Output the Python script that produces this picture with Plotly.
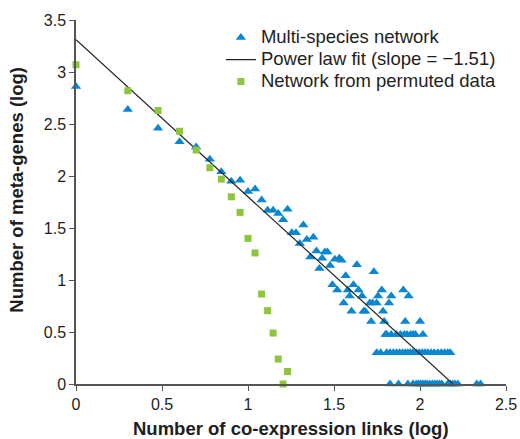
import math
import plotly.graph_objects as go

# Multi-species network (log10 links, log10 meta-genes)
multi_x = [0.0, 0.301, 0.477, 0.602, 0.699, 0.778, 0.845, 0.903, 0.954, 1.0,
           1.041, 1.079, 1.114, 1.146, 1.176, 1.204, 1.23, 1.255, 1.279, 1.301,
           1.322, 1.342, 1.362, 1.38, 1.398, 1.415, 1.431, 1.447, 1.462, 1.477,
           1.491, 1.505, 1.519, 1.531, 1.544, 1.556, 1.568, 1.58, 1.591, 1.602,
           1.613, 1.633, 1.643, 1.663, 1.672, 1.681, 1.708, 1.716, 1.724, 1.732,
           1.748, 1.756, 1.778, 1.785, 1.792, 1.806, 1.820, 1.833, 1.903, 1.914,
           1.934, 2.0]
multi_y = [2.86, 2.64, 2.46, 2.33, 2.28, 2.16, 2.04, 1.95, 1.96, 1.85,
           1.875, 1.77, 1.67, 1.67, 1.64, 1.58, 1.68, 1.455, 1.455, 1.35,
           1.53, 1.39, 1.22, 1.41, 1.28, 1.11, 1.21, 1.27, 1.27, 1.14,
           0.954, 1.2, 0.903, 1.21, 1.19, 0.778, 1.041, 0.903, 0.845, 0.699,
           0.954, 1.146, 0.903, 0.845, 0.699, 0.699, 0.778, 0.602, 0.778, 1.079,
           0.778, 0.845, 0.903, 0.699, 0.602, 0.477, 0.778, 0.845, 0.903, 0.602,
           0.845, 0.602]

# Lower bands of the multi-species network (integer links per band, log10 meta-genes)
band_links_3 = [63, 68, 73, 77, 81, 84, 88, 91, 94, 104]
band_links_2 = [56, 59, 64, 67, 70, 73, 76, 79, 82, 85, 88, 91, 95, 99, 103,
                107, 111, 116, 121, 127, 133, 139, 145, 150]
band_links_1 = [67, 75, 85, 91, 95, 98, 101, 104, 107, 110, 114, 118, 122, 126,
                130, 134, 145, 150, 155, 160, 166, 214, 225]
band_levels = [0.477, 0.301, 0.0]

# Network from permuted data
perm_x = [0.0, 0.301, 0.477, 0.602, 0.699, 0.778, 0.845, 0.903, 0.954, 1.0,
          1.041, 1.079, 1.114, 1.146, 1.176, 1.204, 1.23]
perm_y = [3.07, 2.82, 2.63, 2.43, 2.25, 2.08, 1.97, 1.80, 1.65, 1.40,
          1.26, 0.865, 0.705, 0.49, 0.24, 0.0, 0.12]

# Power law fit
fit_intercept = 3.31
fit_slope = -1.51
fit_x = [0.0, 2.19]

x_ticks = [0, 0.5, 1, 1.5, 2, 2.5]
x_ticklabels = ["0", "0.5", "1", "1.5", "2", "2.5"]
y_ticks = [0, 0.5, 1, 1.5, 2, 2.5, 3, 3.5]
y_ticklabels = ["0", "0.5", "1", "1.5", "2", "2.5", "3", "3.5"]

series_names = ["Multi-species network",
                "Power law fit (slope = \u22121.51)",
                "Network from permuted data"]
x_title = "Number of co-expression links (log)"
y_title = "Number of meta-genes (log)"

all_x = list(multi_x)
all_y = list(multi_y)
for links, lvl in zip([band_links_3, band_links_2, band_links_1], band_levels):
    for k in links:
        all_x.append(math.log10(k))
        all_y.append(lvl)

fit_y = [fit_intercept + fit_slope * v for v in fit_x]

BLUE = "#0b87cf"
GREEN = "#8cc63e"
TEXT = "#1e1e1e"
FONT = "Liberation Sans, Arial, sans-serif"


def legend_label(s):
    return '<span style="font-size:18.5px">' + s + '</span>'


fig = go.Figure()
fig.add_trace(go.Scatter(
    x=all_x, y=all_y, mode="markers", name=legend_label(series_names[0]),
    marker=dict(symbol="triangle-up", size=9, color=BLUE),
    cliponaxis=False))
fig.add_trace(go.Scatter(
    x=fit_x, y=fit_y, mode="lines", name=legend_label(series_names[1]),
    line=dict(color="#222222", width=1.2), cliponaxis=False))
fig.add_trace(go.Scatter(
    x=perm_x, y=perm_y, mode="markers", name=legend_label(series_names[2]),
    marker=dict(symbol="square", size=7, color=GREEN),
    cliponaxis=False))

fig.update_layout(
    width=520, height=439,
    margin=dict(l=76, r=14, t=20, b=55, autoexpand=False),
    paper_bgcolor="white", plot_bgcolor="white",
    font=dict(family=FONT, size=16, color=TEXT),
    showlegend=True,
    legend=dict(x=0.337, y=0.9956, xanchor="left", yanchor="top",
                bgcolor="rgba(0,0,0,0)", font=dict(size=14.6, color=TEXT),
                tracegroupgap=0),
    xaxis=dict(range=[0, 2.5], tickvals=x_ticks, ticktext=x_ticklabels,
               showgrid=False, zeroline=False, showline=True, automargin=False,
               linecolor="#555555", linewidth=1.5,
               ticks="outside", ticklen=5, tickcolor="#555555",
               tickfont=dict(size=16, color=TEXT)),
    yaxis=dict(range=[0, 3.5], tickvals=y_ticks, ticktext=y_ticklabels,
               showgrid=False, zeroline=False, showline=True, automargin=False,
               linecolor="#555555", linewidth=1.5,
               ticks="outside", ticklen=5, tickcolor="#555555",
               tickfont=dict(size=16, color=TEXT)),
    annotations=[
        dict(text="<b>" + x_title + "</b>", xref="paper", yref="paper",
             x=0.5, y=-0.121, xanchor="center", yanchor="middle",
             showarrow=False, font=dict(size=18.5, color=TEXT)),
        dict(text="<b>" + y_title + "</b>", xref="paper", yref="paper",
             x=-0.137, y=0.534, xanchor="center", yanchor="middle",
             textangle=-90, showarrow=False, font=dict(size=18.5, color=TEXT)),
    ],
)

fig.write_html("out.html")
